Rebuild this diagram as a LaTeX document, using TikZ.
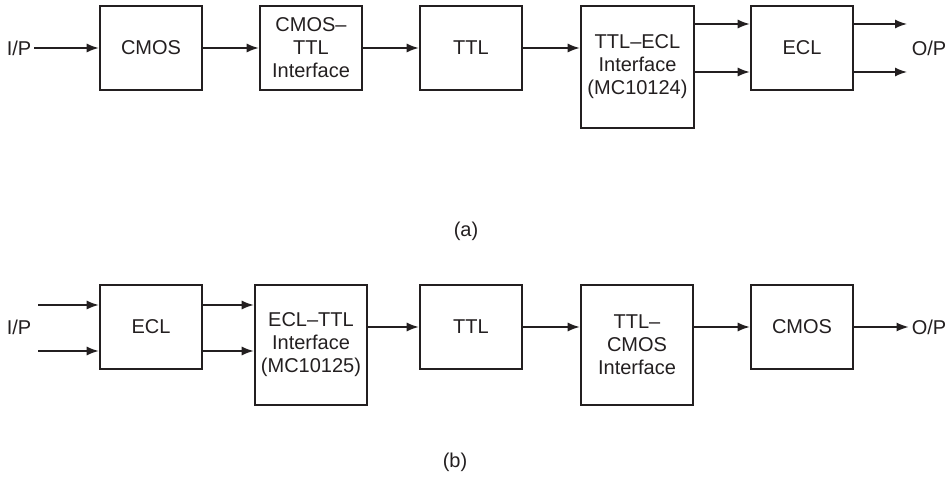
\documentclass[tikz,border=0pt]{standalone}
\usepackage{fontspec}
\setmainfont{Liberation Sans}
\usetikzlibrary{arrows.meta}
\definecolor{ink}{HTML}{231F20}
\begin{document}
\begin{tikzpicture}[x=1pt,y=1pt,
  font=\fontsize{20}{23}\selectfont,
  blk/.style={draw=ink, line width=2.6pt, text=ink, align=center, inner sep=0pt},
  sblk/.style={blk, minimum width=102pt, minimum height=84pt},
  tblk/.style={blk, minimum width=113pt, minimum height=122pt},
  lbl/.style={text=ink, inner sep=3pt},
  conn/.style={draw=ink, line width=1.4pt, -{Latex[length=12pt,width=9pt]}}]
\useasboundingbox (0,0) rectangle (949,476);
% ---------- (a) ----------
\node[lbl] (ipa) at (19,428) {I/P};
\node[sblk] (cmosa) at (151,428) {CMOS};
\node[sblk] (ctia) at (311,428) {CMOS–\\TTL\\Interface};
\node[sblk] (ttla) at (471,428) {TTL};
\node[tblk] (teia) at (637.5,409) {TTL–ECL\\Interface\\(MC10124)};
\node[sblk] (ecla) at (802,428) {ECL};
\node[lbl] (opa) at (929,428) {O/P};
\coordinate (oa1) at (907,452);
\coordinate (oa2) at (907,404);
\draw[conn] (ipa.east) -- (cmosa.west);
\draw[conn] (cmosa.east) -- (ctia.west);
\draw[conn] (ctia.east) -- (ttla.west);
\draw[conn] (ttla.east) -- (ttla.east -| teia.west);
\draw[conn] ([yshift=24pt]ecla.west -| teia.east) -- ([yshift=24pt]ecla.west);
\draw[conn] ([yshift=-24pt]ecla.west -| teia.east) -- ([yshift=-24pt]ecla.west);
\draw[conn] (oa1 -| ecla.east) -- (oa1);
\draw[conn] (oa2 -| ecla.east) -- (oa2);
\node[lbl] (capa) at (466,245) {(a)};
% ---------- (b) ----------
\node[lbl] (ipb) at (19,149) {I/P};
\coordinate (ib1) at (38,171);
\coordinate (ib2) at (38,125);
\node[sblk] (eclb) at (151,149) {ECL};
\node[tblk, minimum width=112pt, minimum height=120pt] (etib) at (311,131) {ECL–TTL\\Interface\\(MC10125)};
\node[sblk] (ttlb) at (471,149) {TTL};
\node[tblk, minimum width=112pt, minimum height=120pt] (tcib) at (637,131) {TTL–\\CMOS\\Interface};
\node[sblk] (cmosb) at (802,149) {CMOS};
\node[lbl] (opb) at (929,149) {O/P};
\draw[conn] (ib1) -- (ib1 -| eclb.west);
\draw[conn] (ib2) -- (ib2 -| eclb.west);
\draw[conn] (ib1 -| eclb.east) -- (ib1 -| etib.west);
\draw[conn] (ib2 -| eclb.east) -- (ib2 -| etib.west);
\draw[conn] (etib.east |- ttlb.west) -- (ttlb.west);
\draw[conn] (ttlb.east) -- (ttlb.east -| tcib.west);
\draw[conn] (tcib.east |- cmosb.west) -- (cmosb.west);
\draw[conn] (cmosb.east) -- (opb.west);
\node[lbl] (capb) at (455,14) {(b)};
\end{tikzpicture}
\end{document}
